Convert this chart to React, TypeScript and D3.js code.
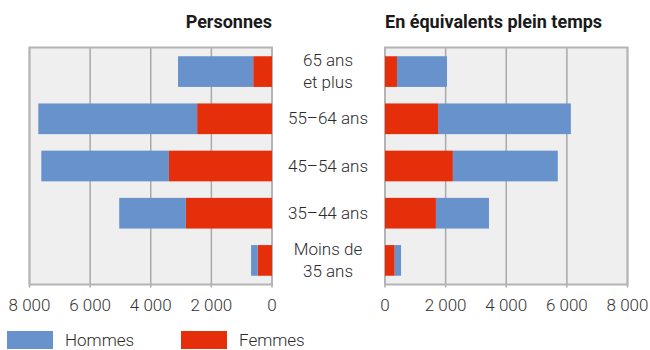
import React, {useEffect, useRef} from 'react';
import * as d3 from 'd3';

// age groups, top to bottom ("\n" = line break in the label)
const categories: string[] = ["65 ans\net plus", "55–64 ans", "45–54 ans", "35–44 ans", "Moins de\n35 ans"];

// Personnes
const personnesHommes: number[] = [2480, 5240, 4210, 2200, 220];
const personnesFemmes: number[] = [620, 2470, 3400, 2840, 470];

// En équivalents plein temps
const eptHommes: number[] = [1650, 4380, 3460, 1750, 210];
const eptFemmes: number[] = [395, 1750, 2240, 1680, 320];

const tickValues: number[] = [0, 2000, 4000, 6000, 8000];
const seriesKeys: string[] = ["Femmes", "Hommes"];

const App = () => {
  const ref = useRef<SVGSVGElement>(null);

  useEffect(() => {
    drawChart();
    return () => {
      d3.select(ref.current).selectAll("*").remove();
    };
  }, []);

  const drawChart = () => {
    const svg = d3.select(ref.current);
    const font = "Roboto, 'Noto Sans', sans-serif";
    const colors: Record<string, string> = {Hommes: "#6892cc", Femmes: "#e52f0b"};

    const top = 47.5, bottom = 284.5;
    const y = d3.scaleBand<string>()
      .domain(categories)
      .range([top, bottom])
      .paddingInner(0.35)
      .paddingOuter(0.185);

    const fmt = d3.formatLocale({decimal: ",", thousands: "\u00a0", grouping: [3], currency: ["", " €"]}).format(",");

    const rows = categories.map((c, i) => ({cat: c, Hommes: personnesHommes[i], Femmes: personnesFemmes[i]}));
    const rowsEpt = categories.map((c, i) => ({cat: c, Hommes: eptHommes[i], Femmes: eptFemmes[i]}));
    const stack = d3.stack<any>().keys(seriesKeys);

    // draws one panel, x scale decides the direction
    const panel = (x: d3.ScaleLinear<number, number>, data: any[], title: string, anchor: string) => {
      const [x0, x1] = d3.extent(x.range()) as [number, number];
      const g = svg.append('g');

      g.append('rect')
        .attr('x', x0).attr('y', top)
        .attr('width', x1 - x0).attr('height', bottom - top)
        .attr('fill', "#efefef");

      // gridlines + small ticks under the axis
      g.selectAll('.grid')
        .data(tickValues)
        .enter().append('line')
        .attr('x1', d => x(d)).attr('x2', d => x(d))
        .attr('y1', top).attr('y2', bottom + 3)
        .attr('stroke', "#a9a9a9")
        .attr('stroke-width', 1.5);

      g.append('rect')
        .attr('x', x0).attr('y', top)
        .attr('width', x1 - x0).attr('height', bottom - top)
        .attr('fill', "none")
        .attr('stroke', "#b4b4b4")
        .attr('stroke-width', 2);

      const layers = stack(data);
      g.selectAll('.layer')
        .data(layers)
        .enter().append('g')
        .attr('fill', d => colors[d.key])
        .selectAll('rect')
        .data(d => d)
        .enter().append('rect')
        .attr('x', d => Math.min(x(d[0]), x(d[1])))
        .attr('width', d => Math.abs(x(d[1]) - x(d[0])))
        .attr('y', d => y(d.data.cat) as number)
        .attr('height', y.bandwidth());

      g.selectAll('.tick')
        .data(tickValues)
        .enter().append('text')
        .attr('x', d => x(d))
        .attr('y', 311)
        .attr('text-anchor', "middle")
        .attr('font-family', font)
        .attr('font-size', 17)
        .attr('font-weight', 300)
        .attr('fill', "#333")
        .text(d => fmt(d));

      g.append('text')
        .attr('x', anchor === "end" ? x1 : x0)
        .attr('y', 27.5)
        .attr('text-anchor', anchor)
        .attr('font-family', font)
        .attr('font-size', 18)
        .attr('font-weight', 700)
        .attr('fill', "#1a1a1a")
        .text(title);
    };

    panel(d3.scaleLinear().domain([0, 8000]).range([272, 29.5]), rows, "Personnes", "end");
    panel(d3.scaleLinear().domain([0, 8000]).range([385, 627.5]), rowsEpt, "En équivalents plein temps", "start");

    // category labels between the panels
    const labels = svg.append('g')
      .selectAll('text')
      .data(categories)
      .enter().append('text')
      .attr('text-anchor', "middle")
      .attr('font-family', font)
      .attr('font-size', 17)
      .attr('font-weight', 300)
      .attr('fill', "#2b2b2b");

    labels.each(function (d) {
      const lines = d.split("\n");
      const cy = (y(d) as number) + y.bandwidth() / 2 + 5.5 - (lines.length - 1) * 11;
      lines.forEach((l, i) => {
        d3.select(this).append('tspan')
          .attr('x', 328)
          .attr('y', cy + i * 22)
          .text(l);
      });
    });

    // legend
    const legend = svg.append('g')
      .selectAll('g')
      .data(["Hommes", "Femmes"])
      .enter().append('g')
      .attr('transform', (d, i) => `translate(${7 + i * 174},331)`);

    legend.append('rect')
      .attr('width', 46)
      .attr('height', 18)
      .attr('fill', d => colors[d]);

    legend.append('text')
      .attr('x', 58)
      .attr('y', 15)
      .attr('font-family', font)
      .attr('font-size', 17)
      .attr('font-weight', 300)
      .attr('fill', "#2b2b2b")
      .text(d => d);
  };

  return (
    <svg ref={ref} width={650} height={350}
      style={{position: "absolute", left: 0, top: 0, background: "#fff"}} />
  );
};

export default App;
